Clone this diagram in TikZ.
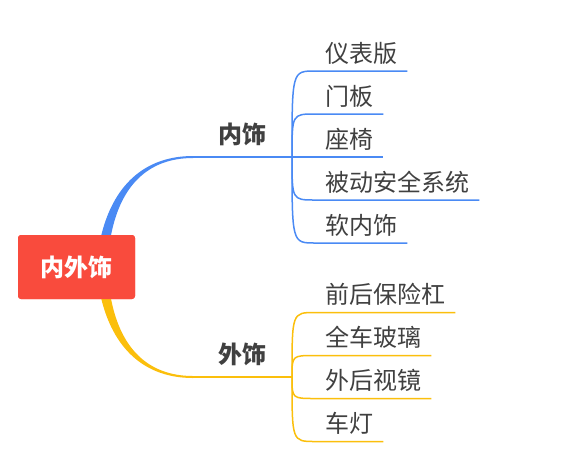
\documentclass[tikz,border=0pt]{standalone}
\usepackage{fontspec}
\setmainfont{Noto Sans CJK SC}
\definecolor{rootred}{HTML}{F94B3D}
\definecolor{innerblue}{HTML}{4A8AF4}
\definecolor{outeryellow}{HTML}{FBBF0C}
\definecolor{textgray}{HTML}{404040}

\begin{document}
\begin{tikzpicture}[x=1pt,y=-1pt,
		rootbox/.style={fill=rootred,rounded corners=3pt,minimum width=117pt,minimum height=64pt,inner sep=0pt,text=white,font=\fontsize{24pt}{24pt}\selectfont\bfseries},
		branchlabel/.style={above,inner sep=0pt,text depth=13pt,text=textgray,font=\fontsize{24pt}{24pt}\selectfont\bfseries},
		leaf/.style={anchor=south west,inner xsep=10pt,inner ysep=0pt,text depth=8.5pt,text=textgray,font=\fontsize{24pt}{24pt}\selectfont},
		twig/.style={line width=1.5pt}]
		
		\useasboundingbox (0,0) rectangle (562,467);
		
		\coordinate (innerjoin) at (193,157);
		\coordinate (innerhub) at (292,157);
		\coordinate (outerjoin) at (193,377);
		\coordinate (outerhub) at (292,377);
		
		\node[rootbox] (root) at (76.5,267) {内外饰};
		
		% main branches
		\fill[innerblue] ([xshift=-35pt,yshift=-5pt]root.north east) .. controls +(12,-55) and +(-48,0) .. ([yshift=1pt]innerjoin) -- ([yshift=-1pt]innerjoin) .. controls +(-45,0) and +(9,-54) .. ([xshift=-25pt,yshift=-5pt]root.north east) -- cycle;
		\fill[outeryellow] ([xshift=-35pt,yshift=5pt]root.south east) .. controls +(12,55) and +(-48,0) .. ([yshift=-1pt]outerjoin) -- ([yshift=1pt]outerjoin) .. controls +(-45,0) and +(9,54) .. ([xshift=-25pt,yshift=5pt]root.south east) -- cycle;
		\node[rootbox] at (root) {内外饰};
		\draw[innerblue,line width=2pt] (innerjoin) -- node[branchlabel] (inner) {内饰} (innerhub);
		\draw[outeryellow,line width=2pt] (outerjoin) -- node[branchlabel] (outer) {外饰} (outerhub);
		
		% inner leaves
		\node[leaf] (dash) at (315,71) {仪表版};
		\node[leaf] (door) at (315,114) {门板};
		\node[leaf] (seat) at (315,157) {座椅};
		\node[leaf] (safety) at (315,200) {被动安全系统};
		\node[leaf] (soft) at (315,243) {软内饰};
		\draw[innerblue,twig] (innerhub) .. controls (innerhub |- dash.south west) .. (dash.south west) -- (dash.south east);
		\draw[innerblue,twig] (innerhub) .. controls (innerhub |- door.south west) .. (door.south west) -- (door.south east);
		\draw[innerblue,twig] (innerhub) -- (seat.south west) -- (seat.south east);
		\draw[innerblue,twig] (innerhub) .. controls (innerhub |- safety.south west) .. (safety.south west) -- (safety.south east);
		\draw[innerblue,twig] (innerhub) .. controls (innerhub |- soft.south west) .. (soft.south west) -- (soft.south east);
		
		% outer leaves
		\node[leaf] (bumper) at (315,312.5) {前后保险杠};
		\node[leaf] (glass) at (315,355.5) {全车玻璃};
		\node[leaf] (mirror) at (315,398.5) {外后视镜};
		\node[leaf] (lamp) at (315,441.5) {车灯};
		\draw[outeryellow,twig] (outerhub) .. controls (outerhub |- bumper.south west) .. (bumper.south west) -- (bumper.south east);
		\draw[outeryellow,twig] (outerhub) .. controls (outerhub |- glass.south west) .. (glass.south west) -- (glass.south east);
		\draw[outeryellow,twig] (outerhub) .. controls (outerhub |- mirror.south west) .. (mirror.south west) -- (mirror.south east);
		\draw[outeryellow,twig] (outerhub) .. controls (outerhub |- lamp.south west) .. (lamp.south west) -- (lamp.south east);
		
	\end{tikzpicture}
\end{document}
